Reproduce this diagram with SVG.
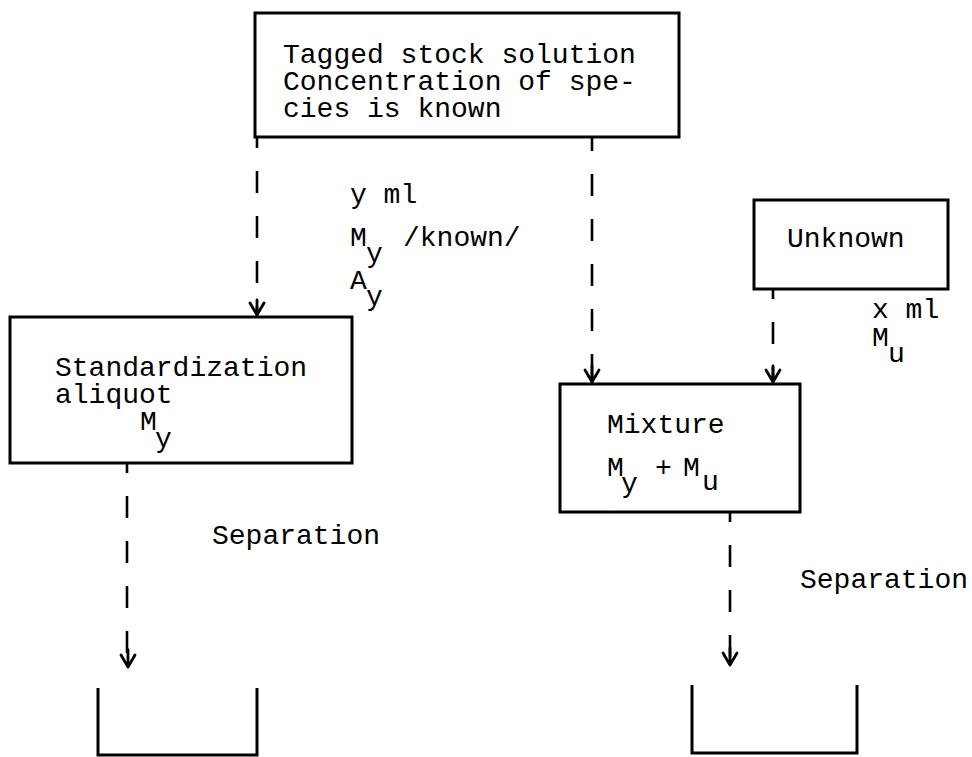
<svg xmlns="http://www.w3.org/2000/svg" width="972" height="757" viewBox="0 0 972 757">
<defs>
<style>
.box{fill:none;stroke:#000;stroke-width:3;stroke-linejoin:miter}
.dash{fill:none;stroke:#000;stroke-width:2.6;stroke-dasharray:22 23}
.head{fill:none;stroke:#000;stroke-width:2.8;stroke-linecap:round;stroke-linejoin:round}
text{font-family:"Liberation Mono","DejaVu Sans Mono",monospace;font-size:28px;fill:#000}
</style>
</defs>
<rect width="972" height="757" fill="#fff"/>
<g id="stock">
<rect class="box" x="255" y="13" width="424" height="124"/>
<text x="283" y="63">Tagged stock solution</text>
<text x="283" y="90">Concentration of spe-</text>
<text x="283" y="117">cies is known</text>
</g>
<g id="unknown">
<rect class="box" x="754" y="200" width="194" height="89"/>
<text x="787" y="247">Unknown</text>
</g>
<g id="standardization">
<rect class="box" x="10" y="317" width="342" height="146"/>
<text x="55" y="376">Standardization</text>
<text x="55" y="403">aliquot</text>
<text x="140" y="430">M</text>
<text x="155" y="447">y</text>
</g>
<g id="mixture">
<rect class="box" x="560" y="384" width="240" height="128"/>
<text x="607" y="433">Mixture</text>
<text x="607" y="476">M</text>
<text x="621" y="492">y</text>
<text x="655" y="476">+</text>
<text x="683" y="476">M</text>
<text x="702" y="490">u</text>
</g>
<g id="result-left">
<path class="box" d="M98,688 V755 H257 V688"/>
</g>
<g id="result-right">
<path class="box" d="M692,685 V753 H857 V685"/>
</g>
<g id="connectors">
<path class="dash" d="M257,137 V314" stroke-dashoffset="11"/>
<path class="head" d="M250,303 L257,315 L264,303 M257,300 V315"/>
<path class="dash" d="M592,137 V381" stroke-dashoffset="8"/>
<path class="head" d="M585,370 L592,382 L599,370 M592,366 V382"/>
<path class="dash" d="M773,289 V381" stroke-dashoffset="12"/>
<path class="head" d="M766,370 L773,382 L780,370 M773,366 V382"/>
<path class="dash" d="M127,463 V665" stroke-dashoffset="12"/>
<path class="head" d="M121,655 L128,667 L135,655 M128,650 V667"/>
<path class="dash" d="M730,512 V663" stroke-dashoffset="12"/>
<path class="head" d="M723,653 L730,665 L737,653 M730,648 V665"/>
</g>
<g id="labels">
<text x="350" y="203">y ml</text>
<text x="350" y="246">M</text>
<text x="366" y="262">y</text>
<text x="403" y="246">/known/</text>
<text x="350" y="289">A</text>
<text x="366" y="305">y</text>
<text x="872" y="318">x ml</text>
<text x="872" y="346">M</text>
<text x="888" y="362">u</text>
<text x="212" y="544">Separation</text>
<text x="800" y="588">Separation</text>
</g>
</svg>
